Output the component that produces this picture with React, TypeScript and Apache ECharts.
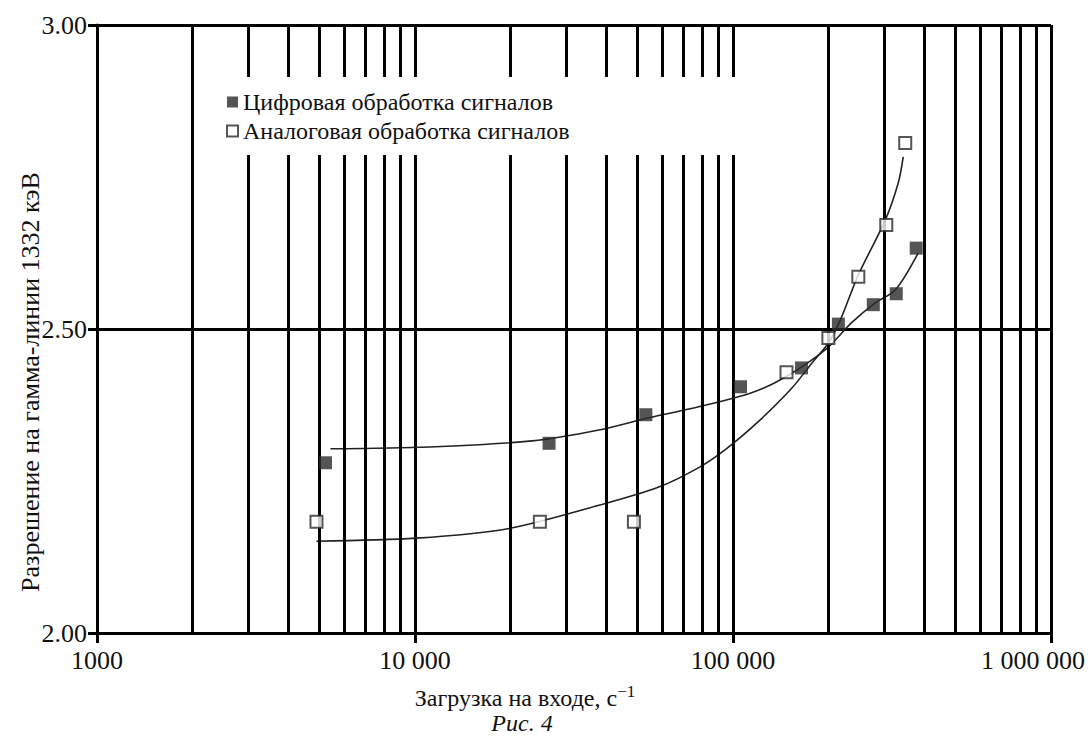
import React, { useEffect, useRef } from "react";
import * as echarts from "echarts";

// Measured markers
const digitalX = [5230, 26400, 53200, 105600, 164200, 214500, 276200, 326100, 376800];
const digitalY = [2.28, 2.312, 2.359, 2.405, 2.436, 2.508, 2.54, 2.558, 2.633];
const analogX = [4900, 24700, 48800, 147300, 199500, 247800, 303400, 348000];
const analogY = [2.183, 2.183, 2.183, 2.429, 2.485, 2.586, 2.671, 2.806];

// Fitted curves
const digitalCurveX = [5420, 11090, 23340, 37870, 54350, 78000, 114400, 146200, 195300, 235600, 280200, 323800, 382300];
const digitalCurveY = [2.303, 2.306, 2.316, 2.334, 2.354, 2.372, 2.395, 2.421, 2.466, 2.51, 2.543, 2.564, 2.625];
const analogCurveX = [4900, 10100, 19770, 37870, 58420, 78000, 94800, 120300, 152700, 176400, 199500, 217600, 247800, 301200, 330800, 343000];
const analogCurveY = [2.151, 2.156, 2.172, 2.21, 2.24, 2.272, 2.302, 2.348, 2.402, 2.443, 2.477, 2.515, 2.589, 2.679, 2.74, 2.783];

const minorGrid = [
  2000, 3000, 4000, 5000, 6000, 7000, 8000, 9000,
  20000, 30000, 40000, 50000, 60000, 70000, 80000, 90000,
  200000, 300000, 400000, 500000, 600000, 700000, 800000, 900000,
];
const xTickLabels = ["1000", "10 000", "100 000", "1 000 000"];
const yTickLabels = ["2.00", "2.50", "3.00"];

const legendNames = ["Цифровая обработка сигналов", "Аналоговая обработка сигналов"];
const xTitle = "Загрузка на входе, с";
const yTitle = "Разрешение на гамма-линии 1332 кэВ";
const caption = "Рис. 4";

const FONT = "'Liberation Serif', 'Times New Roman', serif";

export default function App() {
  const ref = useRef<HTMLDivElement>(null);
  useEffect(() => {
    document.body.style.margin = "0";
    const chart = echarts.init(ref.current!, null, { renderer: "svg" });
    const zip = (xs: number[], ys: number[]) => xs.map((x, i) => [x, ys[i]]);
    chart.setOption({
      animation: false,
      backgroundColor: "#fff",
      grid: { left: 97, right: 35, top: 25, bottom: 109 },
      xAxis: {
        type: "log",
        logBase: 10,
        min: 1000,
        max: 1000000,
        axisLine: { show: true, lineStyle: { color: "#000", width: 3 } },
        axisTick: { show: true, length: 10, lineStyle: { color: "#000", width: 3 } },
        splitLine: { show: true, lineStyle: { color: "#000", width: 3 } },
        axisLabel: {
          margin: 14,
          fontFamily: FONT,
          fontSize: 26,
          color: "#111",
          formatter: (v: number) => {
            const i = Math.round(Math.log10(v)) - 3;
            const t = xTickLabels[i] ?? "";
            return i === 3 ? "{last|" + t + "}" : t;
          },
          rich: { last: { fontFamily: FONT, fontSize: 26, color: "#111", padding: [0, 36, 0, 0] } },
        },
      },
      yAxis: {
        type: "value",
        min: 2,
        max: 3,
        interval: 0.5,
        axisLine: { show: true, lineStyle: { color: "#000", width: 3 } },
        axisTick: { show: true, length: 9, lineStyle: { color: "#000", width: 3 } },
        splitLine: { show: true, lineStyle: { color: "#000", width: 3 } },
        axisLabel: {
          margin: 10,
          fontFamily: FONT,
          fontSize: 26,
          color: "#111",
          formatter: (v: number) => yTickLabels[Math.round((v - 2) / 0.5)] ?? "",
        },
      },
      legend: {
        z: 20,
        orient: "vertical",
        left: 221,
        top: 85,
        itemWidth: 11,
        itemHeight: 11,
        itemGap: 5,
        textStyle: { fontFamily: FONT, fontSize: 24, color: "#111" },
        data: legendNames,
      },
      graphic: [
        {
          type: "rect",
          z: 10,
          shape: { x: 205, y: 77, width: 560, height: 78 },
          style: { fill: "#fff" },
          silent: true,
        },
        {
          type: "text",
          z: 10,
          x: 525,
          y: 698,
          style: {
            text: xTitle + "{sup|−1}",
            font: "24px " + FONT,
            fill: "#111",
            align: "center",
            verticalAlign: "middle",
            rich: { sup: { fontFamily: FONT, fontSize: 17, fill: "#111", padding: [0, 0, 14, 0] } },
          },
        },
        {
          type: "text",
          z: 10,
          x: 522,
          y: 723,
          style: {
            text: caption,
            font: "italic 24px " + FONT,
            fill: "#111",
            align: "center",
            verticalAlign: "middle",
          },
        },
        {
          type: "text",
          z: 10,
          x: 30,
          y: 382,
          rotation: Math.PI / 2,
          style: {
            text: yTitle,
            font: "26px " + FONT,
            fill: "#111",
            align: "center",
            verticalAlign: "middle",
          },
        },
      ],
      series: [
        {
          name: "grid",
          type: "line",
          data: [],
          z: 1,
          markLine: {
            silent: true,
            symbol: "none",
            label: { show: false },
            lineStyle: { color: "#000", width: 3, type: "solid" },
            data: minorGrid.map((v) => ({ xAxis: v })),
          },
        },
        {
          name: "digitalCurve",
          type: "line",
          data: zip(digitalCurveX, digitalCurveY),
          showSymbol: false,
          smooth: 0.3,
          z: 3,
          lineStyle: { color: "#222", width: 1.6 },
        },
        {
          name: "analogCurve",
          type: "line",
          data: zip(analogCurveX, analogCurveY),
          showSymbol: false,
          smooth: 0.3,
          z: 3,
          lineStyle: { color: "#222", width: 1.6 },
        },
        {
          name: legendNames[0],
          type: "scatter",
          symbol: "rect",
          symbolSize: 13,
          z: 5,
          itemStyle: { color: "#2b2b2b" },
          data: zip(digitalX, digitalY),
        },
        {
          name: legendNames[1],
          type: "scatter",
          symbol: "rect",
          symbolSize: 12,
          z: 5,
          itemStyle: { color: "#fff", borderColor: "#2b2b2b", borderWidth: 2 },
          data: zip(analogX, analogY),
        },
      ],
    });
    return () => chart.dispose();
  }, []);
  return <div ref={ref} style={{ width: 1088, height: 742 }} />;
}
